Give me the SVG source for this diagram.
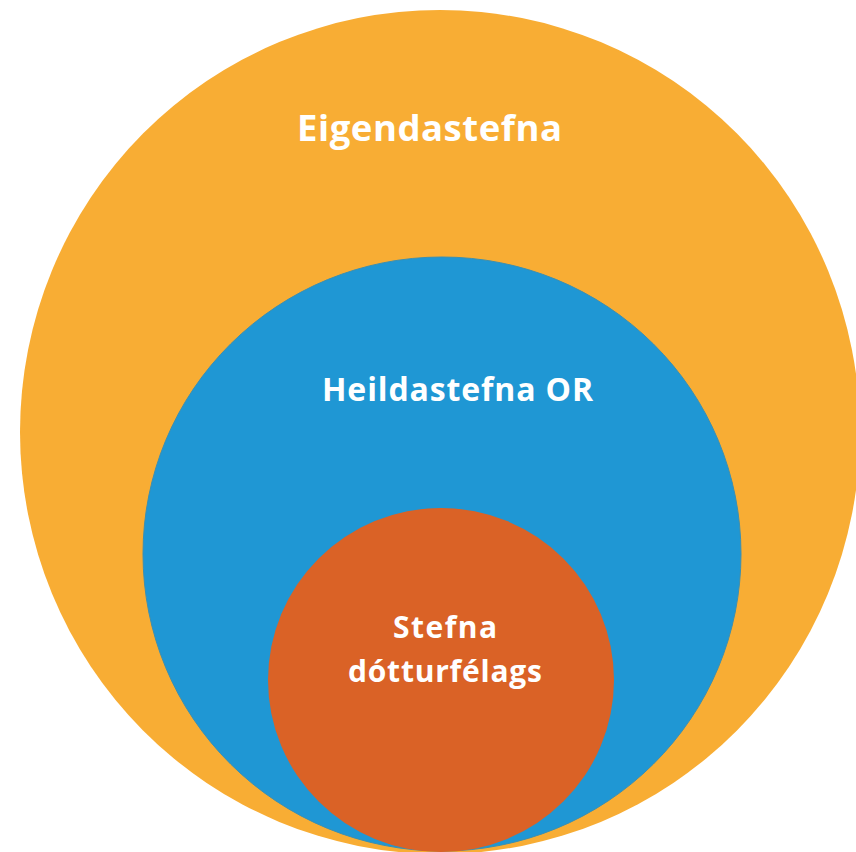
<svg xmlns="http://www.w3.org/2000/svg" width="856" height="852" viewBox="0 0 856 852">
<style>
.lbl{font-family:"Open Sans","Liberation Sans",sans-serif;font-weight:bold;fill:#FFFFFF;text-anchor:middle}
</style>
<rect x="0" y="0" width="856" height="852" fill="#FFFFFF"/>
<g id="eigendastefna">
<ellipse cx="440" cy="432" rx="420" ry="422" fill="#F8AD34"/>
<text class="lbl" x="429.5" y="141" font-size="36.5" textLength="265" lengthAdjust="spacing">Eigendastefna</text>
</g>
<g id="heildastefna">
<ellipse cx="442" cy="554" rx="299" ry="297" fill="#1F97D4" stroke="#3C8FB0" stroke-width="1"/>
<text class="lbl" x="457.5" y="401" font-size="32" textLength="271" lengthAdjust="spacing">Heildastefna OR</text>
</g>
<g id="stefna-dotturfelags">
<ellipse cx="441" cy="680" rx="173" ry="172" fill="#DA6226"/>
<text class="lbl" x="445" y="638" font-size="30" textLength="104" lengthAdjust="spacing">Stefna</text>
<text class="lbl" x="445" y="682" font-size="30" textLength="194" lengthAdjust="spacing">dótturfélags</text>
</g>
</svg>
